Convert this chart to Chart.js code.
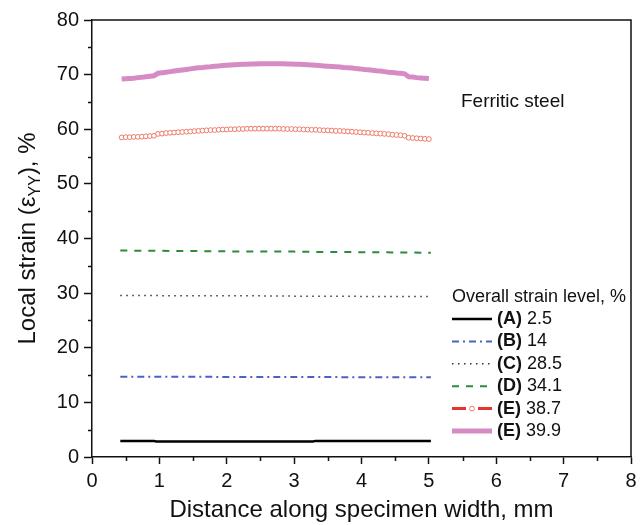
<!DOCTYPE html>
<html>
<head>
<meta charset="utf-8">
<title>Local strain along specimen width</title>
<script src="https://cdn.jsdelivr.net/npm/chart.js@4.4.1/dist/chart.umd.min.js"></script>
<style>
  html, body { margin: 0; padding: 0; background: #fff; }
  #wrap { width: 644px; height: 525px; position: relative; }
</style>
</head>
<body>
<div id="wrap"><canvas id="grafica"></canvas></div>
<script>
// Measured positions across the width (mm), dense grid for the two upper curves
const posFine = [
  0.44, 0.50, 0.56, 0.62, 0.68, 0.74, 0.80, 0.86, 0.92, 0.98,
  1.04, 1.10, 1.16, 1.22, 1.28, 1.34, 1.40, 1.46, 1.52, 1.58,
  1.64, 1.70, 1.76, 1.82, 1.88, 1.94, 2.00, 2.06, 2.12, 2.18,
  2.24, 2.30, 2.36, 2.42, 2.48, 2.54, 2.60, 2.66, 2.72, 2.78,
  2.84, 2.90, 2.96, 3.02, 3.08, 3.14, 3.20, 3.26, 3.32, 3.38,
  3.44, 3.50, 3.56, 3.62, 3.68, 3.74, 3.80, 3.86, 3.92, 3.98,
  4.04, 4.10, 4.16, 4.22, 4.28, 4.34, 4.40, 4.46, 4.52, 4.58,
  4.64, 4.70, 4.76, 4.82, 4.88, 4.94, 5.00
];

// (E) 38.7 % overall strain
const strainE387 = [
  58.5, 58.55, 58.55, 58.6, 58.6, 58.65, 58.7, 58.75, 58.8, 59.15,
  59.2, 59.3, 59.35, 59.4, 59.45, 59.5, 59.55, 59.6, 59.65, 59.7,
  59.75, 59.8, 59.85, 59.85, 59.9, 59.95, 59.95, 60.0, 60.0, 60.05,
  60.05, 60.1, 60.1, 60.1, 60.1, 60.1, 60.1, 60.1, 60.1, 60.1,
  60.05, 60.05, 60.05, 60.0, 60.0, 59.95, 59.95, 59.9, 59.9, 59.85,
  59.8, 59.8, 59.75, 59.7, 59.7, 59.65, 59.6, 59.55, 59.5, 59.45,
  59.4, 59.35, 59.3, 59.25, 59.2, 59.15, 59.1, 59.0, 58.95, 58.9,
  58.8, 58.45, 58.4, 58.35, 58.3, 58.25, 58.2
];

// (E) 39.9 % overall strain
const strainE399 = [
  69.2, 69.25, 69.3, 69.35, 69.45, 69.5, 69.6, 69.7, 69.8, 70.25,
  70.35, 70.45, 70.55, 70.65, 70.75, 70.85, 70.95, 71.05, 71.15, 71.25,
  71.3, 71.4, 71.45, 71.55, 71.6, 71.65, 71.7, 71.75, 71.8, 71.85,
  71.9, 71.9, 71.95, 71.95, 72.0, 72.0, 72.0, 72.0, 72.0, 72.0,
  72.0, 71.95, 71.95, 71.9, 71.9, 71.85, 71.8, 71.75, 71.7, 71.65,
  71.6, 71.55, 71.5, 71.45, 71.4, 71.3, 71.25, 71.2, 71.1, 71.05,
  70.95, 70.9, 70.8, 70.7, 70.65, 70.55, 70.45, 70.4, 70.3, 70.25,
  70.15, 69.6, 69.55, 69.45, 69.4, 69.35, 69.3
];

// Coarser positions for the nearly flat lower curves
const posCoarse = [0.42, 0.92, 0.95, 1.5, 2.0, 2.5, 3.0, 3.28, 3.32, 4.0, 4.5, 5.03];
const strainA = [2.95, 2.95, 2.85, 2.85, 2.85, 2.85, 2.85, 2.85, 2.95, 2.95, 2.95, 2.95];
const strainB = [14.7, 14.7, 14.7, 14.7, 14.65, 14.65, 14.65, 14.65, 14.65, 14.6, 14.6, 14.6];
const strainC = [29.55, 29.55, 29.55, 29.5, 29.5, 29.5, 29.45, 29.45, 29.45, 29.4, 29.4, 29.4];
const strainD = [37.8, 37.75, 37.75, 37.7, 37.65, 37.6, 37.6, 37.55, 37.55, 37.5, 37.45, 37.4];

// Legend entries
const legendCodes = ['(A)', '(B)', '(C)', '(D)', '(E)', '(E)'];
const legendLevels = ['2.5', '14', '28.5', '34.1', '38.7', '39.9'];

// Axis ranges
const xMin = 0, xMax = 8, xStep = 1;
const yMin = 0, yMax = 80, yStep = 10;

const FONT = '"Liberation Sans", Arial, Helvetica, sans-serif';

function puntos(xs, ys) {
  return xs.map((x, i) => ({ x: x, y: ys[i] }));
}

// Estilos de cada curva (también se usan en la leyenda)
const estilos = [
  { color: '#000000', width: 2.5, dash: [] },
  { color: '#4a62c2', width: 2, dash: [7, 4, 2, 4] },
  { color: '#333333', width: 1.5, dash: [1.5, 4.5] },
  { color: '#2b8c3c', width: 2, dash: [7, 7] },
  { color: '#ee7a68', width: 0, dash: [] },
  { color: '#d68bc5', width: 5, dash: [] }
];

const series = [
  puntos(posCoarse, strainA),
  puntos(posCoarse, strainB),
  puntos(posCoarse, strainC),
  puntos(posCoarse, strainD),
  puntos(posFine, strainE387),
  puntos(posFine, strainE399)
];

const datasets = series.map((data, i) => {
  const st = estilos[i];
  if (i === 4) {
    // open circles only
    return {
      label: legendCodes[i] + ' ' + legendLevels[i],
      data: data,
      showLine: false,
      pointStyle: 'circle',
      pointRadius: 2.4,
      pointBorderWidth: 1,
      pointBorderColor: st.color,
      pointBackgroundColor: '#ffffff'
    };
  }
  return {
    label: legendCodes[i] + ' ' + legendLevels[i],
    data: data,
    borderColor: st.color,
    borderWidth: st.width,
    borderDash: st.dash,
    borderCapStyle: 'butt',
    pointRadius: 0,
    tension: 0,
    fill: false
  };
});

// Marco, ticks menores, título Y con subíndice, texto y leyenda
const extrasPlugin = {
  id: 'extras',
  afterDraw(chart) {
    const { ctx, chartArea: a, scales } = chart;
    const sx = scales.x, sy = scales.y;
    ctx.save();

    // top and right frame
    ctx.strokeStyle = '#111';
    ctx.lineWidth = 1.5;
    ctx.setLineDash([]);
    ctx.beginPath();
    ctx.moveTo(a.left, a.top);
    ctx.lineTo(a.right, a.top);
    ctx.lineTo(a.right, a.bottom);
    ctx.stroke();

    // minor ticks
    ctx.lineWidth = 1.5;
    ctx.beginPath();
    for (let v = xMin + xStep / 2; v < xMax; v += xStep) {
      const px = Math.round(sx.getPixelForValue(v)) + 0.5;
      ctx.moveTo(px, a.bottom);
      ctx.lineTo(px, a.bottom + 4);
    }
    for (let v = yMin + yStep / 2; v < yMax; v += yStep) {
      const py = Math.round(sy.getPixelForValue(v)) + 0.5;
      ctx.moveTo(a.left, py);
      ctx.lineTo(a.left - 4, py);
    }
    ctx.stroke();

    // Y axis title: Local strain (ε_YY), %
    ctx.fillStyle = '#111';
    ctx.textBaseline = 'alphabetic';
    ctx.textAlign = 'left';
    const big = '24px ' + FONT;
    const small = '16px ' + FONT;
    const partes = [
      { t: 'Local strain (ε', f: big, dy: 0 },
      { t: 'YY', f: small, dy: 5 },
      { t: '), %', f: big, dy: 0 }
    ];
    let total = 0;
    partes.forEach(p => { ctx.font = p.f; p.w = ctx.measureText(p.t).width; total += p.w; });
    ctx.translate(35, (a.top + a.bottom) / 2);
    ctx.rotate(-Math.PI / 2);
    let cx = -total / 2;
    partes.forEach(p => {
      ctx.font = p.f;
      ctx.fillText(p.t, cx, p.dy);
      cx += p.w;
    });
    ctx.setTransform(1, 0, 0, 1, 0, 0);

    // material label
    ctx.font = '19px ' + FONT;
    ctx.textBaseline = 'middle';
    ctx.fillText('Ferritic steel', 461, 102);

    // legend
    const lx0 = 452, lx1 = 492, ly0 = 319, lstep = 22.4;
    ctx.font = '18px ' + FONT;
    ctx.fillText('Overall strain level, %', 452, 297);
    legendCodes.forEach((code, i) => {
      const yy = ly0 + i * lstep;
      const st = estilos[i];
      ctx.beginPath();
      if (i === 4) {
        // red line segments with an open circle in the middle
        ctx.strokeStyle = '#e8342c';
        ctx.lineWidth = 3;
        ctx.setLineDash([]);
        ctx.moveTo(lx0, yy); ctx.lineTo(lx0 + 14, yy);
        ctx.moveTo(lx1 - 14, yy); ctx.lineTo(lx1, yy);
        ctx.stroke();
        ctx.beginPath();
        ctx.lineWidth = 1;
        ctx.strokeStyle = st.color;
        ctx.arc((lx0 + lx1) / 2, yy, 2.4, 0, Math.PI * 2);
        ctx.stroke();
      } else {
        ctx.strokeStyle = st.color;
        ctx.lineWidth = st.width;
        ctx.setLineDash(st.dash);
        ctx.moveTo(lx0, yy); ctx.lineTo(lx1, yy);
        ctx.stroke();
        ctx.setLineDash([]);
      }
      ctx.fillStyle = '#111';
      ctx.font = 'bold 18px ' + FONT;
      ctx.fillText(code, 497, yy);
      const w = ctx.measureText(code).width;
      ctx.font = '18px ' + FONT;
      ctx.fillText(' ' + legendLevels[i], 497 + w, yy);
    });

    ctx.restore();
  }
};

const ctxGrafica = document.getElementById('grafica');

new Chart(ctxGrafica, {
  type: 'line',
  data: { datasets: datasets },
  options: {
    responsive: true,
    maintainAspectRatio: false,
    animation: false,
    devicePixelRatio: 1,
    layout: { padding: { top: 20, right: 13, left: 0, bottom: 0 } },
    plugins: {
      legend: { display: false },
      tooltip: { enabled: false }
    },
    scales: {
      x: {
        type: 'linear',
        min: xMin,
        max: xMax,
        afterFit: s => { s.height = 68; },
        ticks: {
          stepSize: xStep,
          color: '#111',
          font: { family: FONT, size: 20 },
          padding: 5,
          maxRotation: 0
        },
        grid: {
          drawOnChartArea: false,
          drawTicks: true,
          tickLength: 7,
          tickWidth: 1.5,
          tickColor: '#111'
        },
        border: { display: true, color: '#111', width: 1.5 },
        title: {
          display: true,
          text: 'Distance along specimen width, mm',
          color: '#111',
          font: { family: FONT, size: 24 },
          padding: { top: 0, bottom: 0 }
        }
      },
      y: {
        min: yMin,
        max: yMax,
        afterFit: s => { s.width = 92; },
        ticks: {
          stepSize: yStep,
          color: '#111',
          font: { family: FONT, size: 20 },
          padding: 5
        },
        grid: {
          drawOnChartArea: false,
          drawTicks: true,
          tickLength: 8,
          tickWidth: 1.5,
          tickColor: '#111'
        },
        border: { display: true, color: '#111', width: 1.5 }
      }
    }
  },
  plugins: [extrasPlugin]
});
</script>
</body>
</html>
